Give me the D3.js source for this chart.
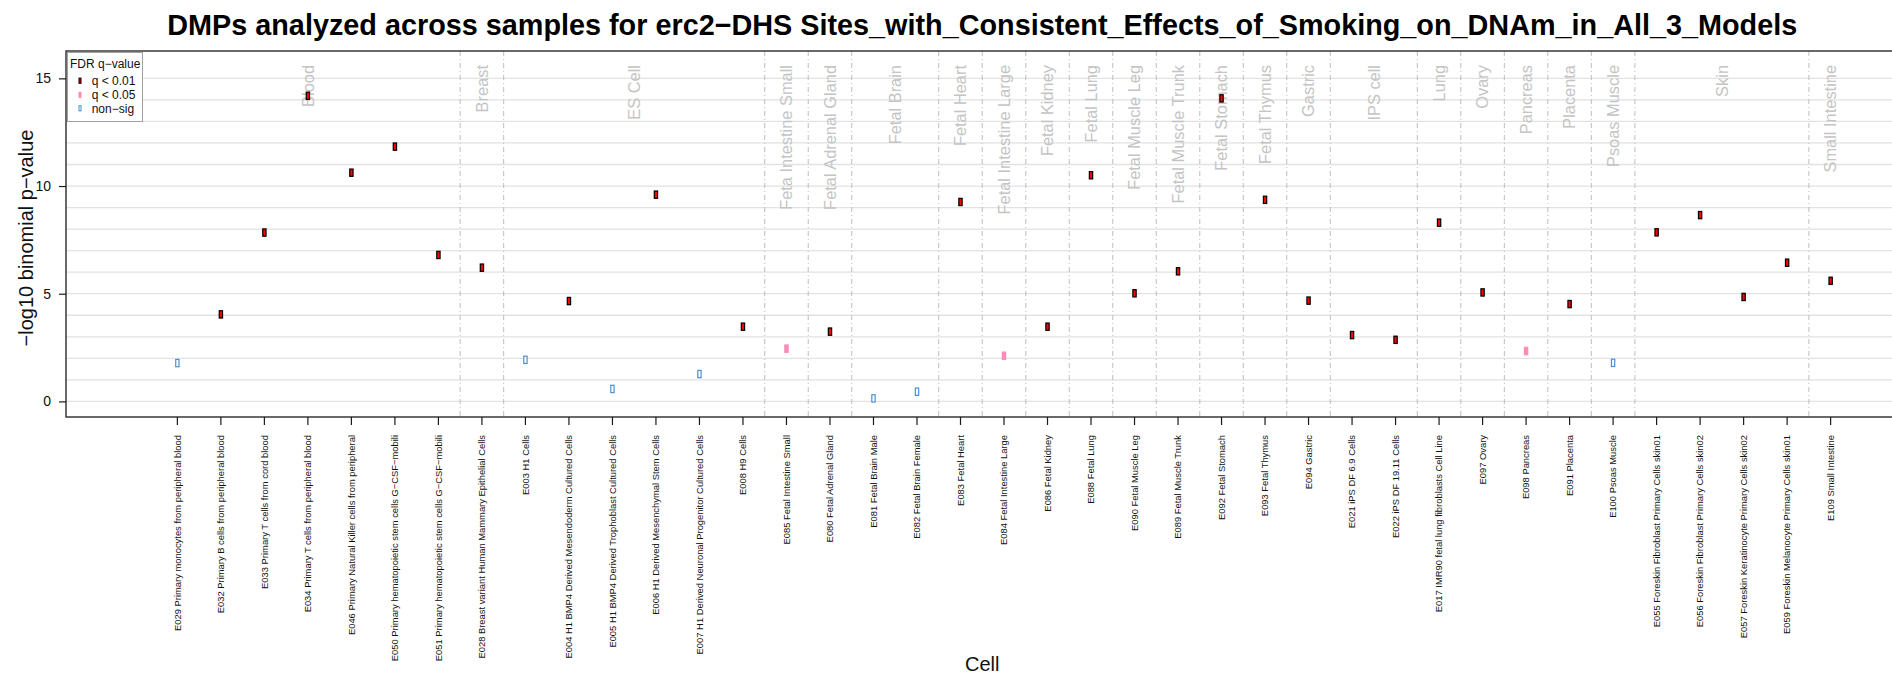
<!DOCTYPE html>
<html>
<head>
<meta charset="utf-8">
<script src="https://cdn.jsdelivr.net/npm/d3@7/dist/d3.min.js"></script>
<style>
  html, body { margin: 0; padding: 0; background: #fff; }
  svg { display: block; font-family: "Liberation Sans", Arial, Helvetica, sans-serif; }
</style>
</head>
<body>
<svg id="chart" width="1892" height="674"></svg>
<script>
// Roadmap epigenome cell types, in plotting order
const cellLabels = [
  "E029 Primary monocytes from peripheral blood",
  "E032 Primary B cells from peripheral blood",
  "E033 Primary T cells from cord blood",
  "E034 Primary T cells from peripheral blood",
  "E046 Primary Natural Killer cells from peripheral",
  "E050 Primary hematopoietic stem cells G\u2212CSF\u2212mobili",
  "E051 Primary hematopoietic stem cells G\u2212CSF\u2212mobili",
  "E028 Breast variant Human Mammary Epithelial Cells",
  "E003 H1 Cells",
  "E004 H1 BMP4 Derived Mesendoderm Cultured Cells",
  "E005 H1 BMP4 Derived Trophoblast Cultured Cells",
  "E006 H1 Derived Mesenchymal Stem Cells",
  "E007 H1 Derived Neuronal Progenitor Cultured Cells",
  "E008 H9 Cells",
  "E085 Fetal Intestine Small",
  "E080 Fetal Adrenal Gland",
  "E081 Fetal Brain Male",
  "E082 Fetal Brain Female",
  "E083 Fetal Heart",
  "E084 Fetal Intestine Large",
  "E086 Fetal Kidney",
  "E088 Fetal Lung",
  "E090 Fetal Muscle Leg",
  "E089 Fetal Muscle Trunk",
  "E092 Fetal Stomach",
  "E093 Fetal Thymus",
  "E094 Gastric",
  "E021 iPS DF 6.9 Cells",
  "E022 iPS DF 19.11 Cells",
  "E017 IMR90 fetal lung fibroblasts Cell Line",
  "E097 Ovary",
  "E098 Pancreas",
  "E091 Placenta",
  "E100 Psoas Muscle",
  "E055 Foreskin Fibroblast Primary Cells skin01",
  "E056 Foreskin Fibroblast Primary Cells skin02",
  "E057 Foreskin Keratinocyte Primary Cells skin02",
  "E059 Foreskin Melanocyte Primary Cells skin01",
  "E109 Small Intestine"
];

// Tissue group of each cell type
const cellGroups = [
  "Blood","Blood","Blood","Blood","Blood","Blood","Blood",
  "Breast",
  "ES Cell","ES Cell","ES Cell","ES Cell","ES Cell","ES Cell",
  "Feta Intestine Small",
  "Fetal Adrenal Gland",
  "Fetal Brain","Fetal Brain",
  "Fetal Heart",
  "Fetal Intestine Large",
  "Fetal Kidney",
  "Fetal Lung",
  "Fetal Muscle Leg",
  "Fetal Muscle Trunk",
  "Fetal Stomach",
  "Fetal Thymus",
  "Gastric",
  "IPS cell","IPS cell",
  "Lung",
  "Ovary",
  "Pancreas",
  "Placenta",
  "Psoas Muscle",
  "Skin","Skin","Skin","Skin",
  "Small Intestine"
];

// -log10 binomial p-value per cell type
const negLogP = [
  1.78, 4.04, 7.84, 14.19, 10.62, 11.83, 6.80,
  6.21,
  1.93, 4.66, 0.58, 9.60, 1.27, 3.47,
  2.45, 3.24, 0.14, 0.45, 9.26, 2.12, 3.47,
  10.50, 5.02, 6.04, 14.07, 9.36,
  4.68, 3.08, 2.86, 8.30, 5.06, 2.34, 4.52, 1.79,
  7.85, 8.65, 4.85, 6.44, 5.60
];

// FDR class: 0 = q < 0.01, 1 = q < 0.05, 2 = non-sig
const fdrClass = [
  2, 0, 0, 0, 0, 0, 0,
  0,
  2, 0, 2, 0, 2, 0,
  1, 0, 2, 2, 0, 1, 0,
  0, 0, 0, 0, 0,
  0, 0, 0, 0, 0, 1, 0, 2,
  0, 0, 0, 0, 0
];

const legendLabels = ["q < 0.01", "q < 0.05", "non\u2212sig"];
const yTicks = [0, 5, 10, 15];

const titleText = "DMPs analyzed across samples for erc2\u2212DHS Sites_with_Consistent_Effects_of_Smoking_on_DNAm_in_All_3_Models";

// marker styles per FDR class
const markFill   = ["#ff0000", "#ff8ab8", "#ffffff"];
const markStroke = ["#000000", "#ff8ab8", "#4a90d4"];

const svg = d3.select("#chart");
const plot = { left: 66, top: 51, right: 1898.5, bottom: 417 };

// x positions 1..n over an xlim of [0, n] with 4% padding
const n = cellLabels.length;
const xPad = 0.04 * n;
const x = d3.scaleLinear().domain([0 - xPad, n + xPad]).range([plot.left, plot.right]);
const pos = i => x(i + 1);

const y = d3.scaleLinear().domain([-0.724, 16.27]).range([plot.bottom, plot.top]);

const g = svg.append("g");

// horizontal grid
g.append("g").selectAll("line")
  .data(d3.range(0, 16))
  .join("line")
  .attr("x1", plot.left).attr("x2", plot.right)
  .attr("y1", d => y(d)).attr("y2", d => y(d))
  .attr("stroke", "#e2e2e2").attr("stroke-width", 1.3);

// group runs
const runs = [];
cellGroups.forEach((grp, i) => {
  if (runs.length && runs[runs.length - 1].name === grp) runs[runs.length - 1].end = i;
  else runs.push({ name: grp, start: i, end: i });
});

// separators between groups
g.append("g").selectAll("line")
  .data(runs.slice(1))
  .join("line")
  .attr("x1", d => pos(d.start - 0.5)).attr("x2", d => pos(d.start - 0.5))
  .attr("y1", plot.top).attr("y2", plot.bottom)
  .attr("stroke", "#bdbdbd").attr("stroke-width", 1)
  .attr("stroke-dasharray", "5,3,1,3");

// group names
g.append("g").selectAll("text")
  .data(runs)
  .join("text")
  .attr("transform", d => `translate(${pos((d.start + d.end) / 2) + 5.8},65) rotate(-90)`)
  .attr("text-anchor", "end")
  .attr("font-size", "16.4px")
  .attr("fill", "#c4c4c4")
  .text(d => d.name);

// markers
const mw = 3.3, mh = 7.3;
g.append("g").selectAll("rect")
  .data(negLogP.map((v, i) => ({ v, i, c: fdrClass[i] })))
  .join("rect")
  .attr("x", d => pos(d.i) - mw / 2)
  .attr("y", d => y(d.v) - mh / 2)
  .attr("width", mw).attr("height", mh)
  .attr("fill", d => markFill[d.c])
  .attr("stroke", d => markStroke[d.c])
  .attr("stroke-width", 1.2);

// plot frame
g.append("rect")
  .attr("x", plot.left).attr("y", plot.top)
  .attr("width", plot.right - plot.left).attr("height", plot.bottom - plot.top)
  .attr("fill", "none").attr("stroke", "#1a1a1a").attr("stroke-width", 1.3);

// y axis
const yAxis = d3.axisLeft(y).tickValues(yTicks).tickSize(7).tickPadding(8).tickFormat(d3.format("d"));
const ya = svg.append("g").attr("transform", `translate(${plot.left},0)`).call(yAxis);
ya.select(".domain").remove();
ya.selectAll("line").attr("stroke", "#1a1a1a").attr("stroke-width", 1.2);
ya.selectAll("text").attr("font-size", "14px").attr("fill", "#111").attr("font-family", null);

// x axis ticks
const xa = svg.append("g").attr("transform", `translate(0,${plot.bottom})`);
xa.selectAll("line")
  .data(cellLabels)
  .join("line")
  .attr("x1", (d, i) => pos(i)).attr("x2", (d, i) => pos(i))
  .attr("y1", 0).attr("y2", 8)
  .attr("stroke", "#1a1a1a").attr("stroke-width", 1.2);
xa.selectAll("text")
  .data(cellLabels)
  .join("text")
  .attr("transform", (d, i) => `translate(${pos(i) + 3.3},18) rotate(-90)`)
  .attr("text-anchor", "end")
  .attr("font-size", "9.4px")
  .attr("fill", "#111")
  .text(d => d);

// axis titles
svg.append("text")
  .attr("transform", `translate(33,${(plot.top + plot.bottom) / 2 + 4}) rotate(-90)`)
  .attr("text-anchor", "middle")
  .attr("font-size", "20px")
  .attr("fill", "#111")
  .text("\u2212log10 binomial p\u2212value");

svg.append("text")
  .attr("x", (plot.left + plot.right) / 2).attr("y", 671)
  .attr("text-anchor", "middle")
  .attr("font-size", "20px")
  .attr("fill", "#111")
  .text("Cell");

svg.append("text")
  .attr("x", (plot.left + plot.right) / 2).attr("y", 35)
  .attr("text-anchor", "middle")
  .attr("font-size", "28.8px")
  .attr("font-weight", "bold")
  .attr("fill", "#000")
  .text(titleText);

// legend
const lg = svg.append("g");
lg.append("rect")
  .attr("x", 67.5).attr("y", 52.5).attr("width", 75).attr("height", 69)
  .attr("fill", "#fff").attr("stroke", "#a0a0a0").attr("stroke-width", 1);
lg.append("text")
  .attr("x", 70).attr("y", 67.5)
  .attr("font-size", "12px").attr("fill", "#111")
  .text("FDR q\u2212value");
const ly = [80.7, 94.8, 108.3];
lg.selectAll("rect.key")
  .data(legendLabels)
  .join("rect")
  .attr("class", "key")
  .attr("x", 79).attr("y", (d, i) => ly[i] - 2.6)
  .attr("width", 2).attr("height", 5.2)
  .attr("fill", (d, i) => markFill[i])
  .attr("stroke", (d, i) => markStroke[i])
  .attr("stroke-width", 1);
lg.selectAll("text.lab")
  .data(legendLabels)
  .join("text")
  .attr("class", "lab")
  .attr("x", 91.7).attr("y", (d, i) => ly[i] + 4.2)
  .attr("font-size", "12px").attr("fill", "#111")
  .text(d => d);
</script>
</body>
</html>
